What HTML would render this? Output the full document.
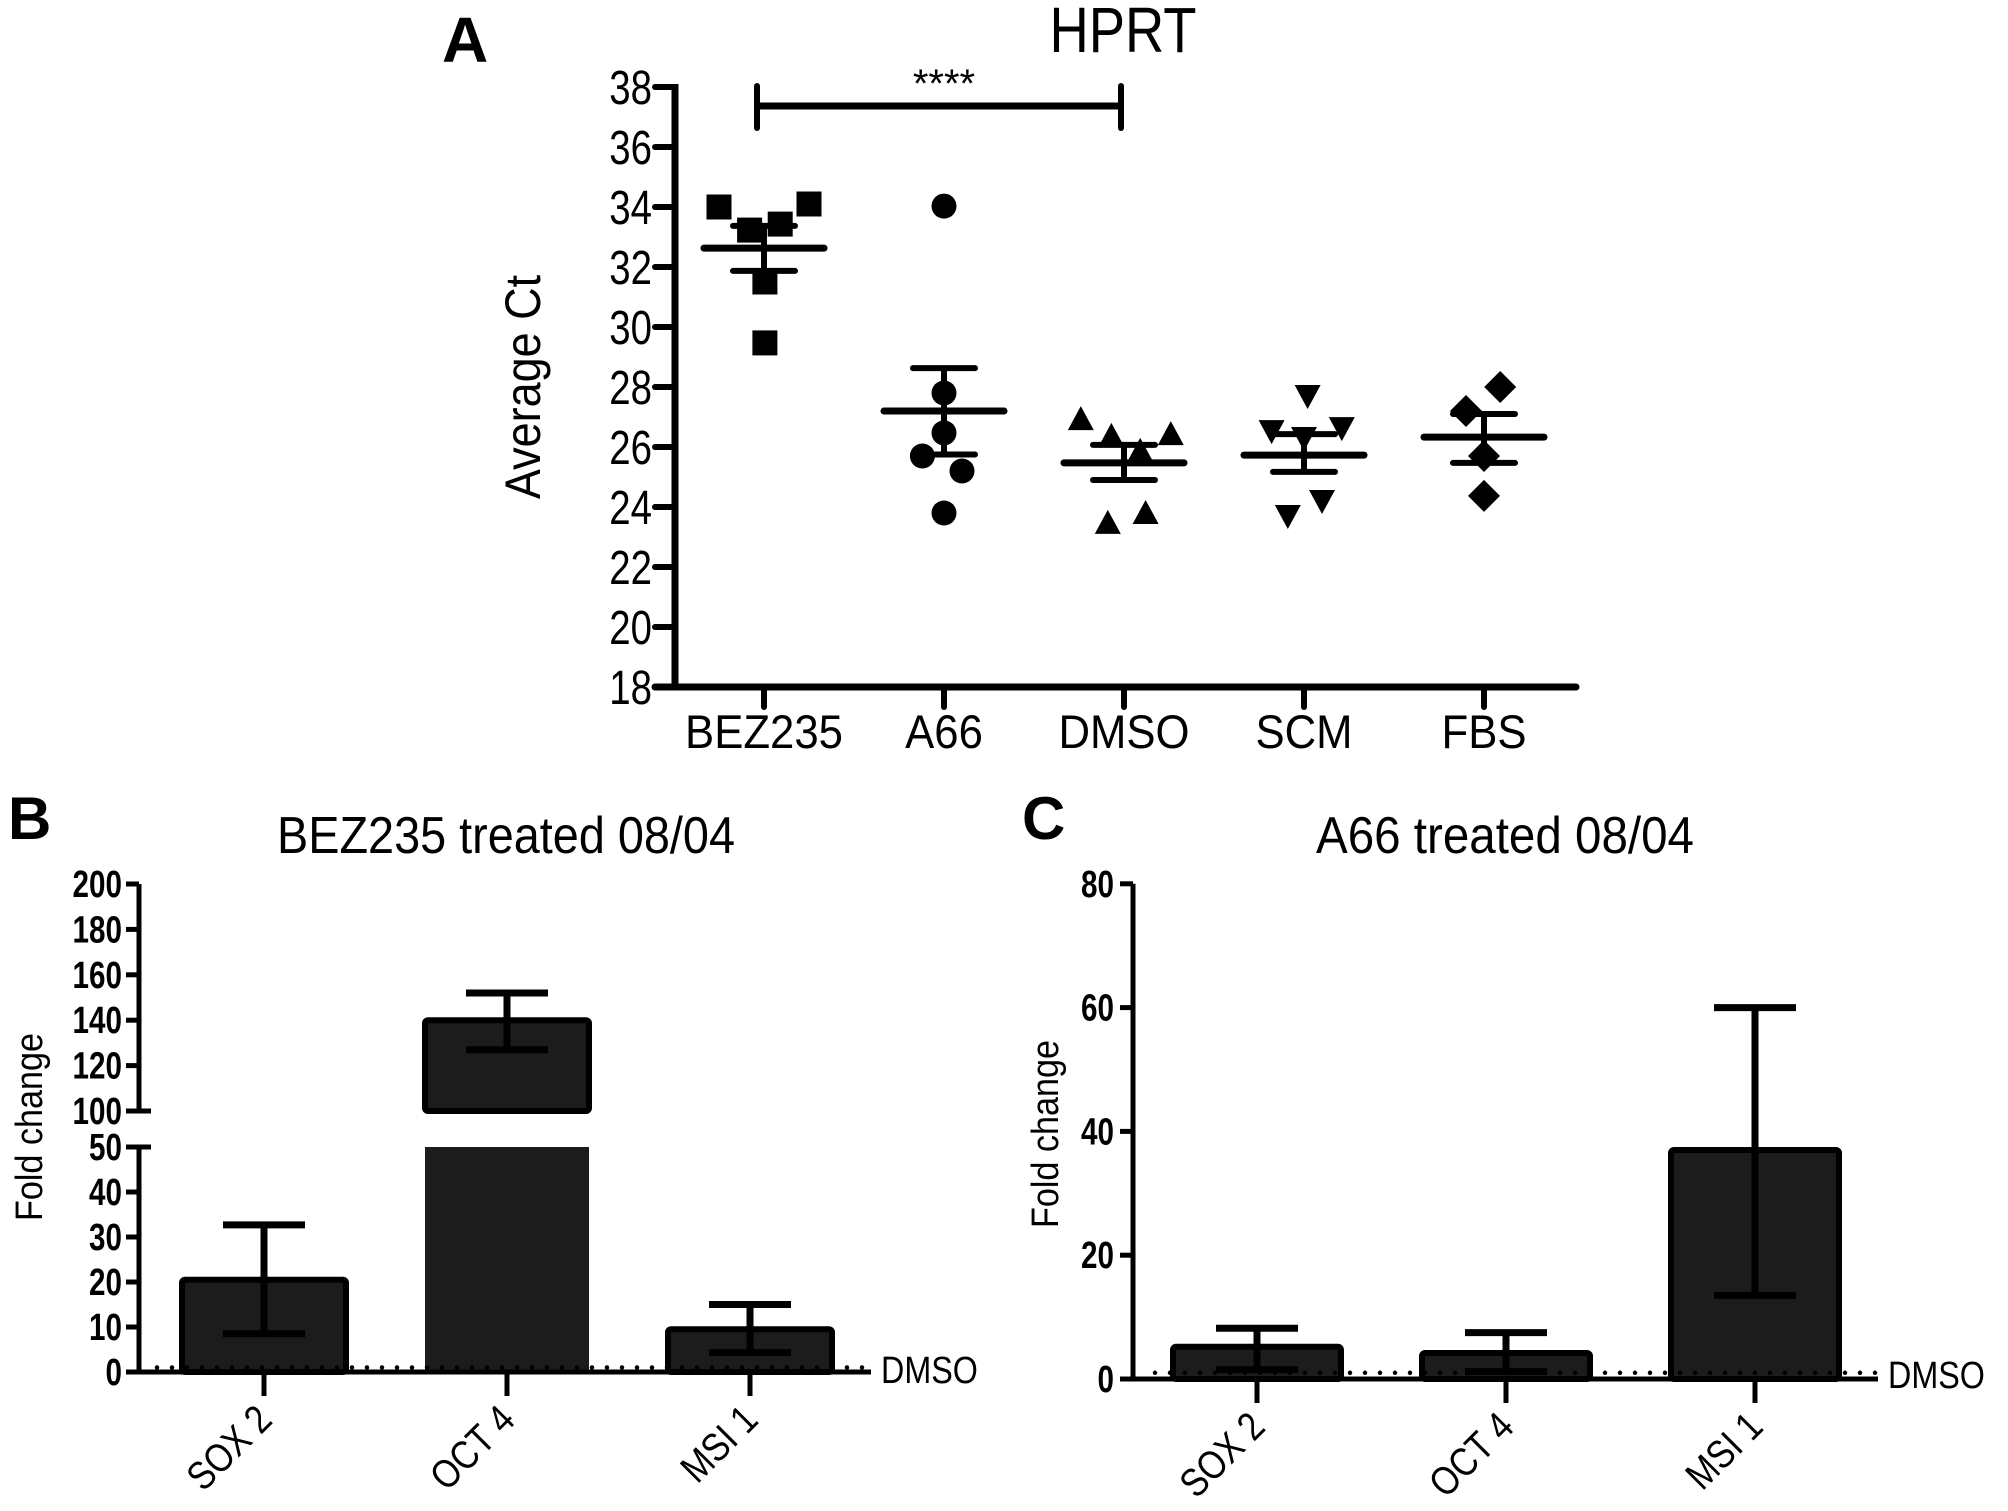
<!DOCTYPE html>
<html><head><meta charset="utf-8"><style>
html,body{margin:0;padding:0;background:#fff}
svg{display:block}
text{font-family:"Liberation Sans",sans-serif;fill:#000}
</style></head><body>
<svg id="fig" width="2008" height="1511" viewBox="0 0 2008 1511" xmlns="http://www.w3.org/2000/svg">
<g id="pa"></g>
<g id="pb"></g>
<g id="pc"></g>
</svg>
<script>
// ---------- Panel A data ----------
const aCategories = ["BEZ235","A66","DMSO","SCM","FBS"];
const aPoints = [
  [34.0,33.23,33.43,34.1,31.5,29.47],
  [34.03,27.8,26.47,25.7,25.2,23.8],
  [26.93,26.37,26.43,25.87,23.47,23.8],
  [26.53,27.7,26.63,26.3,23.7,24.2],
  [28.0,27.2,25.7,24.37]
];
const aMeans = [32.63,27.2,25.47,25.73,26.33];
const aSemUpper = [33.37,28.63,26.07,26.43,27.1];
const aSemLower = [31.87,25.75,24.9,25.17,25.47];
const aTicks = [18,20,22,24,26,28,30,32,34,36,38];
// ---------- Panel B data ----------
const bCategories = ["SOX 2","OCT 4","MSI 1"];
const bValues = [20.5,140,9.5];
const bErrUpper = [32.7,152,15];
const bErrLower = [8.5,127,4.3];
const bTicksLow = [0,10,20,30,40,50];
const bTicksHigh = [100,120,140,160,180,200];
// ---------- Panel C data ----------
const cCategories = ["SOX 2","OCT 4","MSI 1"];
const cValues = [5.2,4.2,37];
const cErrUpper = [8.2,7.5,60];
const cErrLower = [1.5,1.2,13.5];
const cTicks = [0,20,40,60,80];
const dmsoLevel = 1;

const NS="http://www.w3.org/2000/svg";
function mk(parent,tag,attrs,txt){const e=document.createElementNS(NS,tag);for(const k in attrs)e.setAttribute(k,attrs[k]);if(txt!==undefined)e.textContent=txt;parent.appendChild(e);return e;}
function txt(parent,x,y,size,str,anchor,sx,rot,weight){
  return mk(parent,'text',{x:0,y:0,'font-size':size,'text-anchor':anchor,'font-weight':weight||'normal',
    transform:`translate(${x},${y}) rotate(${rot||0}) scale(${sx},1)`},str);
}

// ================= Panel A =================
(function(){
const g=document.getElementById('pa');
const x0=675, x1=1576, yBase=687;
const yA=v=>yBase-(v-18)*30;
const xA=i=>764+i*180;
const jitter=[[-0.25,-0.08,0.09,0.25,0.005,0.005],[0,0,0,-0.12,0.1,0],[-0.24,-0.07,0.26,0.09,-0.09,0.12],[-0.18,0.02,0.21,0,-0.09,0.1],[0.09,-0.1,0,0]];
let t;
t=mk(g,'text',{x:442,y:62,'font-size':64,'font-weight':'bold'},'A');

t=txt(g,1123,52,64,'HPRT','middle',0.85);

t=txt(g,540,387,50,'Average Ct','middle',0.9,-90);

let a=mk(g,'line',{x1:x0,y1:yA(38)-3,x2:x0,y2:yBase,stroke:'#000','stroke-width':7});

a=mk(g,'line',{x1:x0-20,y1:yBase,x2:x1,y2:yBase,stroke:'#000','stroke-width':7,'stroke-linecap':'round'});

aTicks.forEach(v=>{
  const l=mk(g,'line',{x1:x0-20,y1:yA(v),x2:x0,y2:yA(v),stroke:'#000','stroke-width':6,'stroke-linecap':'round'});
  
  const tt=txt(g,652,yA(v)+17,48,String(v),'end',0.8);
  
});
aCategories.forEach((c,i)=>{
  const l=mk(g,'line',{x1:xA(i),y1:yBase,x2:xA(i),y2:707,stroke:'#000','stroke-width':6,'stroke-linecap':'round'});
  
  const tt=txt(g,xA(i),748,47,c,'middle',0.93);
  
});
const s=mk(g,'g',{});

mk(s,'line',{x1:xA(0)-7,y1:106,x2:xA(2)-3,y2:106,stroke:'#000','stroke-width':7});
mk(s,'line',{x1:xA(0)-7,y1:86,x2:xA(0)-7,y2:128,stroke:'#000','stroke-width':6,'stroke-linecap':'round'});
mk(s,'line',{x1:xA(2)-3,y1:86,x2:xA(2)-3,y2:128,stroke:'#000','stroke-width':6,'stroke-linecap':'round'});
t=mk(g,'text',{x:944,y:97,'font-size':40,'text-anchor':'middle'},'****');

aPoints.forEach((arr,i)=>{
  const grp=mk(g,'g',{});
  
  
  arr.forEach((v,j)=>{
    const cx=xA(i)+jitter[i][j]*180, cy=yA(v);
    let m;
    if(i===0) m=mk(grp,'rect',{x:cx-12.5,y:cy-12.5,width:25,height:25,fill:'#000'});
    else if(i===1) m=mk(grp,'circle',{cx:cx,cy:cy,r:12.5,fill:'#000'});
    else if(i===2) m=mk(grp,'polygon',{points:`${cx},${cy-13} ${cx+13},${cy+11} ${cx-13},${cy+11}`,fill:'#000'});
    else if(i===3) m=mk(grp,'polygon',{points:`${cx},${cy+13} ${cx+13},${cy-11} ${cx-13},${cy-11}`,fill:'#000'});
    else m=mk(grp,'polygon',{points:`${cx},${cy-16} ${cx+16},${cy} ${cx},${cy+16} ${cx-16},${cy}`,fill:'#000'});
    
  });
  const cx=xA(i);
  const ml=mk(grp,'line',{x1:cx-60,y1:yA(aMeans[i]),x2:cx+60,y2:yA(aMeans[i]),stroke:'#000','stroke-width':7,'stroke-linecap':'round'});
  
  const e=mk(grp,'path',{d:`M${cx},${yA(aSemUpper[i])}V${yA(aSemLower[i])}M${cx-31},${yA(aSemUpper[i])}H${cx+31}M${cx-31},${yA(aSemLower[i])}H${cx+31}`,stroke:'#000','stroke-width':6,'stroke-linecap':'round',fill:'none'});
  
});
})();

// ================= Panel B =================
(function(){
const g=document.getElementById('pb');
const x0=139, x1=871, y0=1372;
const yLow=v=>y0-v*4.5;
const yHigh=v=>1111-(v-100)*2.27;
const xB=i=>264+i*243;
let t=mk(g,'text',{x:8,y:839,'font-size':60,'font-weight':'bold'},'B');

t=mk(g,'text',{x:506,y:853,'font-size':52,'text-anchor':'middle',textLength:458,lengthAdjust:'spacingAndGlyphs'},'BEZ235 treated 08/04');

t=txt(g,42,1127,38,'Fold change','middle',0.9,-90);

bValues.forEach((v,i)=>{
  const cx=xB(i);
  if(v<=50){
    const r=mk(g,'rect',{x:cx-82,y:yLow(v),width:164,height:y0-yLow(v),fill:'#1c1c1c',stroke:'#000','stroke-width':6,rx:3});
    
  } else {
    const r=mk(g,'rect',{x:cx-82,y:yLow(50),width:164,height:y0-yLow(50),fill:'#1c1c1c',stroke:'none'});
    
    const r2=mk(g,'rect',{x:cx-82,y:yHigh(v),width:164,height:yHigh(100)-yHigh(v),fill:'#1c1c1c',stroke:'#000','stroke-width':6,rx:3});
    
  }
  const yf=v2=>v2>50?yHigh(v2):yLow(v2);
  const e=mk(g,'path',{d:`M${cx},${yf(bErrUpper[i])}V${yf(bErrLower[i])}M${cx-41},${yf(bErrUpper[i])}H${cx+41}M${cx-41},${yf(bErrLower[i])}H${cx+41}`,stroke:'#000','stroke-width':7,fill:'none'});
  
});
let d=mk(g,'line',{x1:x0+18,y1:yLow(dmsoLevel),x2:x1+6,y2:yLow(dmsoLevel),stroke:'#000','stroke-width':4.5,'stroke-dasharray':'0 15','stroke-linecap':'round'});

t=txt(g,881,1383,38,'DMSO','start',0.85);

let a=mk(g,'line',{x1:x0,y1:yLow(50),x2:x0,y2:y0,stroke:'#000','stroke-width':5});

a=mk(g,'line',{x1:x0,y1:yHigh(200),x2:x0,y2:yHigh(100),stroke:'#000','stroke-width':5});

a=mk(g,'line',{x1:x0-12,y1:y0,x2:x1,y2:y0,stroke:'#000','stroke-width':5});

const tick=(y,v,ext)=>{
  const l=mk(g,'line',{x1:x0-13,y1:y,x2:x0+ext,y2:y,stroke:'#000','stroke-width':5});
  
  const tt=txt(g,x0-17,y+13,38,String(v),'end',0.78,0,'bold');
  
};
bTicksLow.forEach(v=>tick(yLow(v),v,v===50?12:0));
bTicksHigh.forEach(v=>tick(yHigh(v),v,v===100?12:0));
bCategories.forEach((c,i)=>{
  const l=mk(g,'line',{x1:xB(i),y1:y0,x2:xB(i),y2:1396,stroke:'#000','stroke-width':5});
  
  const tt=txt(g,xB(i)+10,1422,40,c,'end',0.85,-45);
  
});
})();

// ================= Panel C =================
(function(){
const g=document.getElementById('pc');
const x0=1133, x1=1878, y0=1379;
const yC=v=>y0-v*6.19;
const xC=i=>1257+i*249;
let t=mk(g,'text',{x:1022,y:839,'font-size':60,'font-weight':'bold'},'C');

t=mk(g,'text',{x:1505,y:853,'font-size':52,'text-anchor':'middle',textLength:378,lengthAdjust:'spacingAndGlyphs'},'A66 treated 08/04');

t=txt(g,1058,1134,38,'Fold change','middle',0.9,-90);

cValues.forEach((v,i)=>{
  const cx=xC(i);
  const r=mk(g,'rect',{x:cx-84,y:yC(v),width:168,height:y0-yC(v),fill:'#1c1c1c',stroke:'#000','stroke-width':6,rx:3});
  
  const e=mk(g,'path',{d:`M${cx},${yC(cErrUpper[i])}V${yC(cErrLower[i])}M${cx-41},${yC(cErrUpper[i])}H${cx+41}M${cx-41},${yC(cErrLower[i])}H${cx+41}`,stroke:'#000','stroke-width':7,fill:'none'});
  
});
let d=mk(g,'line',{x1:x0+22,y1:yC(dmsoLevel),x2:x1+6,y2:yC(dmsoLevel),stroke:'#000','stroke-width':4.5,'stroke-dasharray':'0 15','stroke-linecap':'round'});

t=txt(g,1888,1388,38,'DMSO','start',0.85);

let a=mk(g,'line',{x1:x0,y1:yC(80),x2:x0,y2:y0,stroke:'#000','stroke-width':5});

a=mk(g,'line',{x1:x0-12,y1:y0,x2:x1,y2:y0,stroke:'#000','stroke-width':5});

cTicks.forEach(v=>{
  const l=mk(g,'line',{x1:x0-13,y1:yC(v),x2:x0,y2:yC(v),stroke:'#000','stroke-width':5});
  
  const tt=txt(g,x0-19,yC(v)+13,38,String(v),'end',0.78,0,'bold');
  
});
cCategories.forEach((c,i)=>{
  const l=mk(g,'line',{x1:xC(i),y1:y0,x2:xC(i),y2:1403,stroke:'#000','stroke-width':5});
  
  const tt=txt(g,xC(i)+10,1429,40,c,'end',0.85,-45);
  
});
})();
</script>
</body></html>
